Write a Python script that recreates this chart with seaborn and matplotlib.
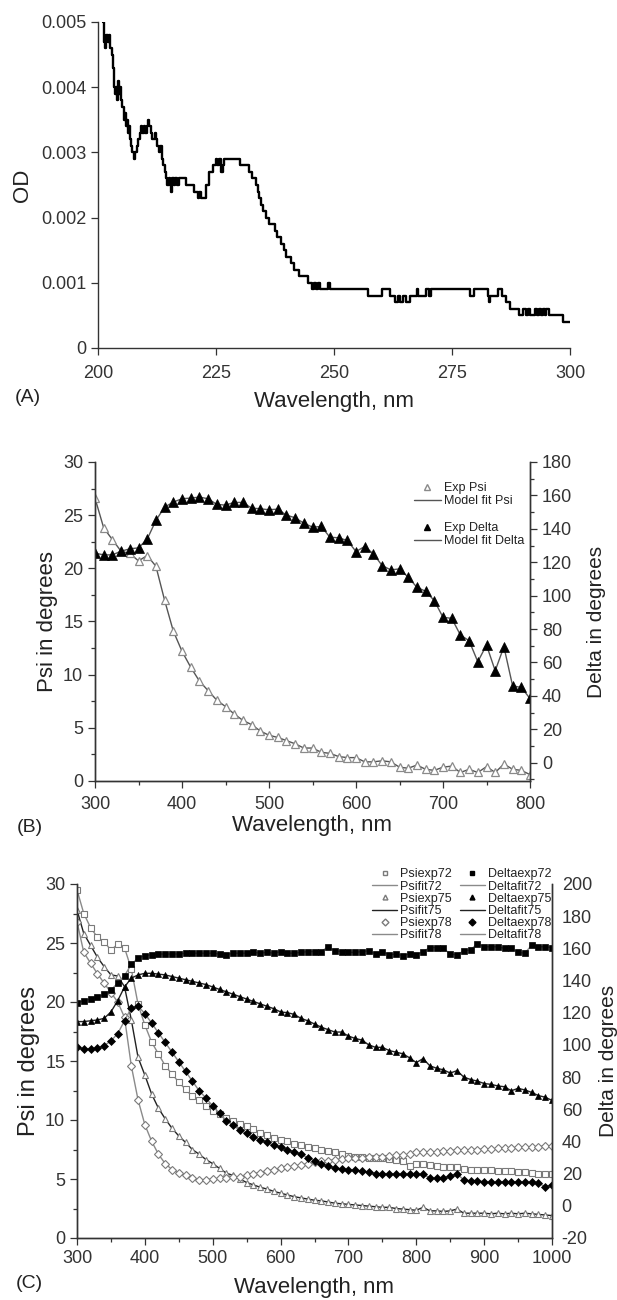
import matplotlib
matplotlib.use("Agg")
import matplotlib.pyplot as plt
import seaborn as sns
from matplotlib.lines import Line2D
from matplotlib.ticker import MultipleLocator

# (A) OD spectrum
wl_a = [201.0, 201.3, 201.5, 201.8, 202.1, 202.3, 202.6, 202.9, 203.1, 203.4,
        203.6, 203.8, 204.0, 204.2, 204.4, 204.6, 204.8, 205.0, 205.3, 205.5,
        205.7, 205.9, 206.1, 206.3, 206.5, 206.8, 207.0, 207.3, 207.6, 207.9,
        208.2, 208.5, 208.8, 209.1, 209.4, 209.7, 210.0, 210.3, 210.6, 210.9,
        211.2, 211.5, 212.0, 212.3, 212.6, 212.9, 213.2, 213.5, 213.8, 214.1,
        214.4, 214.7, 215.0, 215.2, 215.5, 215.7, 216.0, 216.4, 216.7, 217.1,
        218.7, 219.4, 220.4, 221.1, 221.5, 221.8, 222.2, 222.9, 223.6, 224.3,
        224.9, 225.3, 225.7, 226.0, 226.4, 226.7, 227.1, 230.0, 231.7, 232.0,
        232.7, 233.5, 233.9, 234.2, 234.6, 235.0, 235.6, 236.3, 237.3, 237.6,
        238.0, 238.7, 239.4, 239.9, 240.8, 241.5, 242.6, 244.4, 245.4, 245.8,
        246.2, 246.6, 247.0, 248.8, 249.1, 257.2, 260.1, 261.8, 263.0, 263.6,
        264.0, 264.6, 265.2, 266.0, 267.5, 267.8, 269.4, 270.2, 270.5, 271.0,
        275.5, 278.9, 279.7, 282.6, 282.9, 283.1, 284.7, 285.5, 286.4, 287.2,
        289.1, 290.0, 290.6, 291.0, 291.5, 292.6, 293.0, 293.4, 293.8, 294.2,
        294.6, 295.0, 295.6, 298.5, 300.0]
od_a = [0.0050, 0.0047, 0.0046, 0.0048, 0.0047, 0.0048, 0.0046, 0.0045, 0.0043, 0.0040,
        0.0039, 0.0040, 0.0038, 0.0041, 0.0039, 0.0040, 0.0038, 0.0037, 0.0037, 0.0035,
        0.0036, 0.0034, 0.0035, 0.0033, 0.0034, 0.0032, 0.0031, 0.0030, 0.0029, 0.0030,
        0.0031, 0.0032, 0.0033, 0.0034, 0.0033, 0.0034, 0.0033, 0.0034, 0.0035, 0.0034,
        0.0033, 0.0032, 0.0033, 0.0032, 0.0031, 0.0030, 0.0031, 0.0029, 0.0028, 0.0027,
        0.0026, 0.0025, 0.0026, 0.0025, 0.0024, 0.0026, 0.0025, 0.0026, 0.0025, 0.0026,
        0.0025, 0.0025, 0.0024, 0.0023, 0.0024, 0.0023, 0.0023, 0.0025, 0.0027, 0.0028,
        0.0029, 0.0028, 0.0029, 0.0027, 0.0028, 0.0029, 0.0029, 0.0028, 0.0028, 0.0027,
        0.0026, 0.0025, 0.0024, 0.0023, 0.0022, 0.0021, 0.0020, 0.0019, 0.0019, 0.0018,
        0.0017, 0.0016, 0.0015, 0.0014, 0.0013, 0.0012, 0.0011, 0.0010, 0.0009, 0.0010,
        0.0009, 0.0010, 0.0009, 0.0010, 0.0009, 0.0008, 0.0009, 0.0008, 0.0007, 0.0008,
        0.0007, 0.0008, 0.0007, 0.0008, 0.0009, 0.0008, 0.0009, 0.0008, 0.0009, 0.0009,
        0.0009, 0.0008, 0.0009, 0.0008, 0.0007, 0.0008, 0.0009, 0.0008, 0.0007, 0.0006,
        0.0005, 0.0006, 0.0005, 0.0006, 0.0005, 0.0006, 0.0005, 0.0006, 0.0005, 0.0006,
        0.0005, 0.0006, 0.0005, 0.0004, 0.0004]

# (B) ellipsometry, one film
wl_b = list(range(300, 801, 10))
psi_b = [26.6, 23.8, 22.7, 21.6, 21.4, 20.7, 21.2, 20.2, 17.0, 14.1,
         12.2, 10.7, 9.4, 8.5, 7.6, 7.0, 6.3, 5.7, 5.3, 4.7,
         4.3, 4.1, 3.8, 3.5, 3.1, 3.1, 2.7, 2.6, 2.3, 2.2,
         2.2, 1.8, 1.8, 1.9, 1.8, 1.3, 1.2, 1.5, 1.1, 1.0,
         1.3, 1.4, 0.8, 1.1, 0.8, 1.35, 0.8, 1.6, 1.1, 1.0,
         0.6]
delta_b = [125.4, 124.4, 124.4, 126.6, 128.0, 128.6, 133.8, 145.0, 153.0, 156.0,
           158.0, 158.4, 159.0, 158.0, 154.6, 154.2, 155.8, 155.8, 152.4, 152.0,
           151.4, 151.8, 148.2, 146.6, 143.4, 141.0, 141.4, 135.0, 134.6, 133.0,
           126.4, 129.4, 125.0, 118.0, 115.4, 116.0, 111.0, 105.0, 102.6, 97.0,
           87.0, 86.4, 76.4, 73.0, 60.4, 70.4, 55.0, 69.4, 46.0, 45.0,
           38.4]

# (C) ellipsometry at 72, 75, 78 degrees
wl_c = list(range(300, 1001, 10))
psi72 = [29.5, 27.5, 26.3, 25.5, 25.1, 24.4, 24.9, 24.6, 22.8, 19.8,
         18.05, 16.6, 15.6, 14.6, 13.9, 13.2, 12.6, 12.0, 11.7, 11.2,
         10.8, 10.5, 10.2, 9.9, 9.7, 9.5, 9.2, 8.9, 8.7, 8.5,
         8.3, 8.2, 8.0, 7.9, 7.75, 7.65, 7.5, 7.4, 7.25, 7.1,
         6.95, 6.9, 6.85, 6.8, 6.8, 6.75, 6.7, 6.65, 6.5, 6.1,
         6.3, 6.25, 6.15, 6.1, 6.05, 6.05, 6.0, 5.85, 5.8, 5.8,
         5.75, 5.75, 5.7, 5.7, 5.65, 5.6, 5.6, 5.55, 5.45, 5.4,
         5.4]
psi75 = [27.8, 25.8, 24.8, 23.8, 23.0, 22.3, 22.2, 21.3, 18.5, 15.3,
         13.8, 12.2, 11.0, 10.1, 9.3, 8.65, 8.1, 7.5, 7.1, 6.65,
         6.3, 5.9, 5.5, 5.3, 5.0, 4.7, 4.5, 4.3, 4.15, 3.95,
         3.8, 3.65, 3.5, 3.4, 3.3, 3.2, 3.15, 3.05, 2.95, 2.9,
         2.85, 2.8, 2.75, 2.7, 2.65, 2.6, 2.6, 2.5, 2.45, 2.4,
         2.35, 2.6, 2.3, 2.3, 2.25, 2.3, 2.45, 2.1, 2.1, 2.1,
         2.1, 2.05, 2.1, 2.05, 2.1, 2.05, 2.1, 2.05, 2.0, 1.95,
         1.9]
psi78 = [26.8, 24.2, 23.3, 22.4, 21.6, 20.8, 20.0, 18.7, 14.6, 11.7,
         9.6, 8.2, 7.1, 6.3, 5.8, 5.5, 5.3, 5.1, 4.95, 4.95,
         5.0, 5.05, 5.1, 5.15, 5.2, 5.35, 5.45, 5.55, 5.7, 5.8,
         5.9, 6.0, 6.1, 6.2, 6.3, 6.4, 6.5, 6.55, 6.65, 6.7,
         6.75, 6.8, 6.8, 6.85, 6.85, 6.9, 6.95, 7.0, 7.0, 7.1,
         7.25, 7.3, 7.3, 7.3, 7.35, 7.4, 7.45, 7.45, 7.5, 7.5,
         7.55, 7.55, 7.6, 7.6, 7.65, 7.7, 7.7, 7.75, 7.75, 7.8,
         7.8]
delta72 = [126, 127.5, 128.5, 129.5, 131.5, 134, 138.5, 143, 150, 154,
           155.5, 156, 156.5, 156.5, 156.5, 156.5, 157, 157, 157, 157,
           157, 156.5, 156, 157, 157, 157, 157.5, 157, 157.5, 157,
           158, 157, 157, 157.5, 158, 158, 158, 161, 158.5, 158,
           157.5, 157.5, 158, 158.5, 156.5, 158, 156, 156.5, 155.5, 156.5,
           156, 158, 160.5, 160.5, 160, 156.5, 156, 158.5, 159, 163,
           161, 161, 161, 160, 160, 157.5, 157, 162, 161, 161,
           160.5]
delta75 = [114.5, 114.5, 115, 115.5, 116.5, 120.5, 127.5, 136, 141.5, 143.5,
           144.5, 144.5, 144, 143.5, 142.5, 141.5, 140.5, 139.5, 138.5, 137.5,
           136, 134.5, 133, 131.5, 130, 128.5, 127, 125.5, 124, 122.5,
           120.5, 120, 119, 116.5, 115, 113, 111, 109.5, 108, 108,
           105.5, 104, 103, 100, 98.5, 98.5, 96.5, 95.5, 94.5, 92,
           89, 91.5, 87, 85.5, 84.5, 82.5, 84, 80, 78.5, 77.5,
           76, 75.5, 74.5, 74, 71.5, 73, 72, 70.5, 68.5, 67.5,
           65.5]
delta78 = [98.5, 97.5, 97.5, 98, 99.5, 102.5, 107, 115, 123, 124,
           119.5, 113.5, 107.5, 101.5, 95.5, 89.5, 83.5, 77.5, 71.5, 67,
           62, 57.5, 53, 50, 47, 45, 42.5, 41, 39.5, 37.5,
           36.5, 35, 33.5, 32, 30, 28, 26, 25, 23.5, 23,
           22.5, 22, 21.5, 21, 20, 20, 20, 19.5, 19.5, 19.5,
           19.5, 19.5, 17.5, 17, 17.5, 18.5, 20, 16, 15.5, 15.5,
           15, 14.5, 14.5, 15, 15, 15, 14.5, 14.5, 14, 12,
           13]

od_ticks = [0, 0.001, 0.002, 0.003, 0.004, 0.005]
od_ticklabels = ["0", "0.001", "0.002", "0.003", "0.004", "0.005"]

sns.set_style("ticks")
plt.rcParams["font.family"] = ["Liberation Sans", "DejaVu Sans"]
plt.rcParams["axes.unicode_minus"] = False
plt.rcParams["axes.edgecolor"] = "#333333"
plt.rcParams["axes.linewidth"] = 1.0
plt.rcParams["xtick.color"] = "#333333"
plt.rcParams["ytick.color"] = "#333333"
plt.rcParams["text.color"] = "#222222"
plt.rcParams["axes.labelcolor"] = "#222222"

TICK = 13
LAB = 16
W, H = 617, 1300


def box(l, r, t, b):
    return [l / W, 1 - b / H, (r - l) / W, (b - t) / H]


def style_ticks(ax, length=5, pad=3.5, **kw):
    ax.tick_params(which="major", direction="out", length=length, width=0.9,
                   labelsize=TICK, pad=pad, **kw)
    ax.tick_params(which="minor", direction="out", length=3, width=0.9, **kw)


fig = plt.figure(figsize=(6.17, 13), dpi=100)

# ---------- (A) ----------
axA = fig.add_axes(box(98, 570, 22, 348))
sns.lineplot(x=wl_a, y=od_a, ax=axA, color="black", lw=1.7,
             drawstyle="steps-post", estimator=None, sort=False)
axA.set_xlim(200, 300)
axA.set_ylim(0, 0.005)
axA.set_xticks([200, 225, 250, 275, 300])
axA.set_yticks(od_ticks)
axA.set_yticklabels(od_ticklabels)
axA.set_xlabel("Wavelength, nm", fontsize=LAB, labelpad=6)
axA.set_ylabel("OD", fontsize=LAB, labelpad=6)
sns.despine(ax=axA)
style_ticks(axA, axis="y")
style_ticks(axA, axis="x", pad=7.5)
fig.text(28 / W, 1 - 397 / H, "(A)", fontsize=14, ha="center", va="center")

# ---------- (B) ----------
axB = fig.add_axes(box(95, 530, 462, 781))
axB2 = axB.twinx()
sns.lineplot(x=wl_b, y=psi_b, ax=axB, color="#555555", lw=1.0, marker="^", ms=6,
             markerfacecolor="white", markeredgecolor="#8a8a8a", markeredgewidth=0.9,
             estimator=None, sort=False)
sns.lineplot(x=wl_b, y=delta_b, ax=axB2, color="#555555", lw=1.0, marker="^", ms=6.5,
             markerfacecolor="black", markeredgecolor="black", markeredgewidth=0.5,
             estimator=None, sort=False)
axB.set_xlim(300, 800)
axB.set_ylim(0, 30)
axB2.set_ylim(-11, 180)
axB.xaxis.set_major_locator(MultipleLocator(100))
axB.xaxis.set_minor_locator(MultipleLocator(50))
axB.yaxis.set_major_locator(MultipleLocator(5))
axB.yaxis.set_minor_locator(MultipleLocator(2.5))
axB2.yaxis.set_major_locator(MultipleLocator(20))
axB2.yaxis.set_minor_locator(MultipleLocator(10))
axB.set_xlabel("Wavelength, nm", fontsize=LAB, labelpad=2)
axB.set_ylabel("Psi in degrees", fontsize=LAB, labelpad=4)
axB2.set_ylabel("Delta in degrees", fontsize=15, labelpad=11)
for a in (axB, axB2):
    a.spines["top"].set_visible(False)
style_ticks(axB, axis="y")
style_ticks(axB, axis="x", pad=5.5)
style_ticks(axB2)
hB = [Line2D([], [], ls="", marker="^", ms=4, mfc="white", mec="#8a8a8a"),
      Line2D([], [], color="#555555", lw=1.0),
      Line2D([], [], ls=""),
      Line2D([], [], ls="", marker="^", ms=4.5, mfc="black", mec="black"),
      Line2D([], [], color="#555555", lw=1.0)]
axB2.legend(hB, ["Exp Psi", "Model fit Psi", "", "Exp Delta", "Model fit Delta"],
            loc="upper left", bbox_to_anchor=(408 / W, 1 - 476 / H),
            bbox_transform=fig.transFigure, frameon=False, fontsize=9,
            handlelength=2.1, handletextpad=0.3, labelspacing=0.1, borderpad=0)
fig.text(30 / W, 1 - 827 / H, "(B)", fontsize=14, ha="center", va="center")

# ---------- (C) ----------
axC = fig.add_axes(box(77, 552, 884, 1238))
axC2 = axC.twinx()
psi_sets = [(psi72, "s", "#8a8a8a"), (psi75, "^", "#222222"), (psi78, "D", "#8a8a8a")]
delta_sets = [(delta72, "s", "#8a8a8a"), (delta75, "^", "#222222"), (delta78, "D", "#8a8a8a")]
for vals, mk, lc in psi_sets:
    sns.lineplot(x=wl_c, y=vals, ax=axC, color=lc, lw=1.0, marker=mk,
                 ms=4.5 if mk != "D" else 3.8, markerfacecolor="white",
                 markeredgecolor="#7a7a7a", markeredgewidth=0.8,
                 estimator=None, sort=False)
for vals, mk, lc in delta_sets:
    sns.lineplot(x=wl_c, y=vals, ax=axC2, color=lc, lw=1.0, marker=mk,
                 ms=4.5 if mk != "D" else 3.8, markerfacecolor="black",
                 markeredgecolor="black", markeredgewidth=0.5,
                 estimator=None, sort=False)
axC.set_xlim(300, 1000)
axC.set_ylim(0, 30)
axC2.set_ylim(-20, 200)
axC.xaxis.set_major_locator(MultipleLocator(100))
axC.xaxis.set_minor_locator(MultipleLocator(50))
axC.yaxis.set_major_locator(MultipleLocator(5))
axC.yaxis.set_minor_locator(MultipleLocator(2.5))
axC2.yaxis.set_major_locator(MultipleLocator(20))
axC.set_xlabel("Wavelength, nm", fontsize=LAB, labelpad=7)
axC.set_ylabel("Psi in degrees", fontsize=LAB + 1, labelpad=4)
axC2.set_ylabel("Delta in degrees", fontsize=15, labelpad=5)
for a in (axC, axC2):
    a.spines["top"].set_visible(False)
style_ticks(axC)
style_ticks(axC2, length=0, pad=7)
labC = ["Psiexp72", "Psifit72", "Psiexp75", "Psifit75", "Psiexp78", "Psifit78",
        "Deltaexp72", "Deltafit72", "Deltaexp75", "Deltafit75", "Deltaexp78", "Deltafit78"]
hC = []
for mk, lc in [("s", "#8a8a8a"), ("^", "#222222"), ("D", "#8a8a8a")]:
    hC.append(Line2D([], [], ls="", marker=mk, ms=3.5, mfc="white", mec="#7a7a7a"))
    hC.append(Line2D([], [], color=lc, lw=1.0))
for mk, lc in [("s", "#8a8a8a"), ("^", "#222222"), ("D", "#8a8a8a")]:
    hC.append(Line2D([], [], ls="", marker=mk, ms=3.5, mfc="black", mec="black"))
    hC.append(Line2D([], [], color=lc, lw=1.0))
axC2.legend(hC, labC, ncol=2, loc="upper left", bbox_to_anchor=(366 / W, 1 - 862 / H),
            bbox_transform=fig.transFigure, frameon=False, fontsize=9,
            handlelength=2.0, handletextpad=0.25, labelspacing=0.02,
            columnspacing=0.6, borderpad=0)
fig.text(29 / W, 1 - 1283 / H, "(C)", fontsize=14, ha="center", va="center")

fig.savefig("out.png", dpi=100)
